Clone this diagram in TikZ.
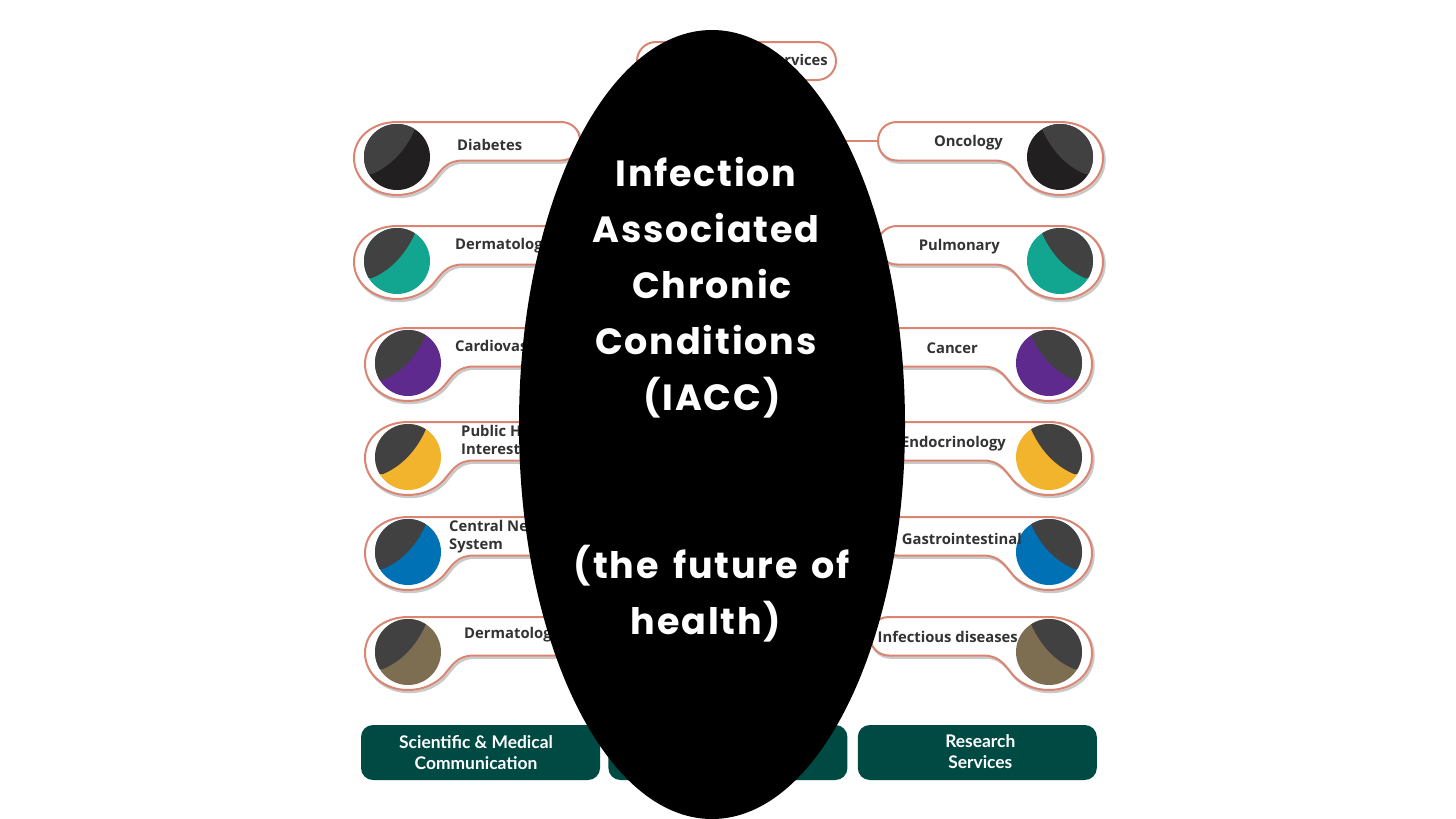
\documentclass[tikz,border=0pt]{standalone}
\usepackage{fontspec}
\usetikzlibrary{positioning, shapes.geometric}
\newfontfamily\labelfont{Open Sans}
\newfontfamily\boxfont{Lato}
\newfontfamily\bigfont[LetterSpace=5,WordSpace=1.5]{Poppins}
\definecolor{pillline}{HTML}{D98572}
\definecolor{pillshade}{HTML}{C9C9C9}
\definecolor{moon}{HTML}{424142}
\definecolor{nightc}{HTML}{211F20}
\definecolor{tealc}{HTML}{12A58F}
\definecolor{purplec}{HTML}{5F2A8E}
\definecolor{yellowc}{HTML}{F2B32D}
\definecolor{bluec}{HTML}{0071B5}
\definecolor{brownc}{HTML}{7D6E52}
\definecolor{boxc}{HTML}{004A44}
% outline of one pill, seen from the centre of its disc
\newcommand{\pilloutline}[1]{(0,-35) -- (#1-19,-35) .. controls (#1-8,-35) and (#1,-27) .. (#1,-16)
  .. controls (#1,-5) and (#1-8,3.5) .. (#1-19,3.5) -- (66,3.5)
  .. controls (50,3.5) and (45,12) .. (36,23) .. controls (28,32) and (15,38) .. (0,38)
  .. controls (-24,38) and (-43,22) .. (-43,1) .. controls (-43,-20) and (-24,-35) .. (0,-35) -- cycle}
% name, x, y, side (1 left, -1 right), length, colour
\newcommand{\pill}[6]{
\begin{scope}[shift={(#2,#3)}, xscale=#4]
\draw[pillshade, line width=2.5pt] [shift={(1.5*#4,2)}] \pilloutline{#5};
\draw[pillline, line width=2pt, fill=white] \pilloutline{#5};
\node (#1) [disc, fill=#6] at (0,0) {};
\begin{scope}
\clip (0,0) circle (33);
\fill[moon] (18,-28) .. controls (8,-5) and (-8,10) .. (-25,17) -- (-40,17) -- (-40,-40) -- (18,-40) -- cycle;
\end{scope}
\end{scope}
}
\begin{document}
\begin{tikzpicture}[x=1pt, y=-1pt,
        disc/.style = {circle, minimum size=66pt, inner sep=0pt},
        lab/.style = {font=\labelfont\bfseries\fontsize{14.8}{18}\selectfont, text=black!80, align=left, inner sep=0pt},
        teal box/.style = {rectangle, rounded corners=12pt, fill=boxc, text=white, minimum width=239pt, minimum height=55pt, align=center, inner sep=0pt, font=\boxfont\bfseries\fontsize{17.4}{21.5}\selectfont},
        hub/.style = {ellipse, fill=black, minimum width=386pt, minimum height=789pt, inner sep=0pt}
                        ]
\useasboundingbox (0,0) rectangle (1456,819);
\pill{diabetes}{397}{157}{1}{183}{nightc}
\pill{derma}{397}{261}{1}{183}{tealc}
\pill{cardio}{408}{363}{1}{172}{purplec}
\pill{public}{408}{457}{1}{172}{yellowc}
\pill{central}{408}{552}{1}{172}{bluec}
\pill{dermb}{408}{652}{1}{172}{brownc}
\pill{oncology}{1060}{157}{-1}{182}{nightc}
\pill{pulmonary}{1060}{261}{-1}{182}{tealc}
\pill{cancer}{1049}{363}{-1}{171}{purplec}
\pill{endo}{1049}{457}{-1}{171}{yellowc}
\pill{gastro}{1049}{552}{-1}{171}{bluec}
\pill{infect}{1049}{652}{-1}{179}{brownc}
\node (services) [draw=pillline, line width=2pt, fill=white, rounded corners=19pt, minimum width=199pt, minimum height=38pt] at (736.5,61) {};
\node (servtext) [lab, anchor=east] at (828,60) {Services};
\coordinate (oncoleft) at (878,141);
\coordinate (oncofree) at (845,141);
\draw[pillline, line width=2pt] (oncofree) -- (oncoleft);
\node (ldiabetes) [lab, anchor=west] at (457,145) {Diabetes};
\node (lderma) [lab, anchor=west] at (455,246) {Dermatology};
\node (lcardio) [lab, anchor=west] at (455,346) {Cardiovascular};
\node (lpublic) [lab, anchor=west] at (461,440) {Public Health\\Interest};
\node (lcentral) [lab, anchor=west] at (449,537) {Central Nervous\\System};
\node (ldermb) [lab, anchor=west] at (464,635) {Dermatology};
\node (loncology) [lab, anchor=east] at (1003,143) {Oncology};
\node (lpulmonary) [lab, anchor=east] at (1000,247) {Pulmonary};
\node (lcancer) [lab, anchor=east] at (978,348) {Cancer};
\node (lendo) [lab, anchor=east] at (1006,444) {Endocrinology};
\node (lgastro) [lab, anchor=east] at (1022,539) {Gastrointestinal};
\node (linfect) [lab, anchor=east] at (1018,637) {Infectious diseases};
\node (sciencebox) [teal box] at (480.5,752.5) {\raisebox{-1pt}{Scientific \&\ Medical}\hspace{9pt}\mbox{}\\\raisebox{-1pt}{Communication}\hspace{9pt}\mbox{}};
\node (midbox) [teal box, right=8pt of sciencebox] {};
\node (researchbox) [teal box, right=10pt of midbox] {\hspace{6pt}\raisebox{2pt}{Research}\\\hspace{6pt}\raisebox{2pt}{Services}};
\node (iacc) [hub] at (712,424.5) {};
\node (iacctext) [text=white, align=center, inner sep=0pt, font=\bigfont\bfseries\fontsize{36.5}{56}\selectfont, anchor=north] at (712,157) {Infection\hspace{12pt}\mbox{}\\Associated\hspace{12pt}\mbox{}\\Chronic\\Conditions\hspace{12pt}\mbox{}\\(IACC)\\\mbox{}\\\mbox{}\\(the future of\\health)\hspace{12pt}\mbox{}};
\end{tikzpicture}
\end{document}
